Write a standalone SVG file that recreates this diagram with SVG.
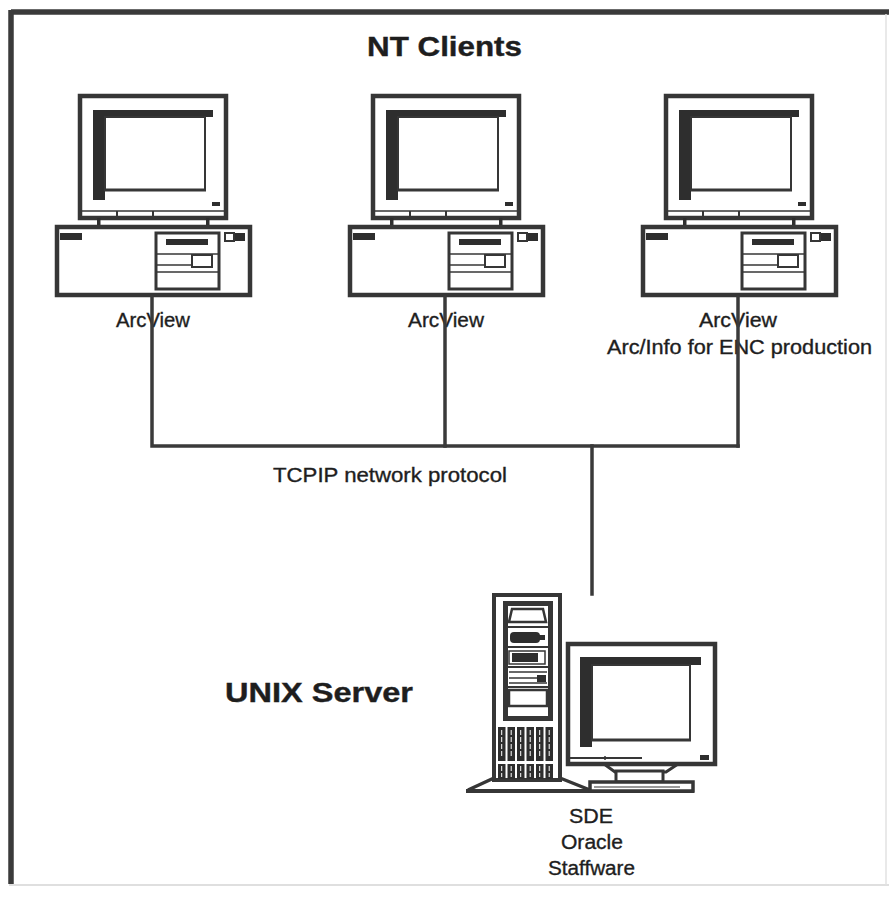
<svg xmlns="http://www.w3.org/2000/svg" xmlns:xlink="http://www.w3.org/1999/xlink" width="889" height="897" viewBox="0 0 889 897">
  <style>
    .ink { fill: none; stroke: #363636; }
    .solid { fill: #2e2e2e; stroke: none; }
    .white { fill: #ffffff; stroke: #363636; }
    .label { font-family: "Liberation Sans", Arial, sans-serif; font-size: 20px; fill: #1e1e1e; stroke: #1e1e1e; stroke-width: 0.35; }
    .title { font-family: "Liberation Sans", Arial, sans-serif; font-size: 27px; font-weight: bold; fill: #1e1e1e; stroke: #1e1e1e; stroke-width: 0.4; }
    .wire { fill: none; stroke: #3a3a3a; stroke-width: 3.5; stroke-linecap: square; }
  </style>
  <defs>
    <!-- desktop workstation: monitor on a horizontal system unit -->
    <g id="desktop">
      <!-- monitor -->
      <rect class="white" x="80" y="96" width="146" height="122" stroke-width="4.5"/>
      <rect class="solid" x="93" y="110" width="120" height="7"/>
      <rect class="solid" x="93" y="110" width="12" height="90"/>
      <rect class="white" x="105" y="117" width="100" height="73" stroke-width="2"/>
      <line class="ink" x1="105" y1="190" x2="206" y2="190" stroke-width="3"/>
      <rect class="solid" x="212" y="202" width="8" height="4"/>
      <line class="ink" x1="82" y1="211" x2="224" y2="211" stroke-width="1.5"/>
      <line class="ink" x1="117" y1="211" x2="117" y2="217" stroke-width="2"/>
      <line class="ink" x1="153" y1="211" x2="153" y2="217" stroke-width="2"/>
      <!-- monitor feet -->
      <rect class="solid" x="97" y="218" width="3.5" height="8"/>
      <rect class="solid" x="206" y="218" width="3.5" height="8"/>
      <!-- system unit -->
      <rect class="white" x="57" y="227" width="193" height="68" stroke-width="4.5"/>
      <rect class="solid" x="60" y="233" width="22" height="7"/>
      <rect class="white" x="156" y="233" width="63" height="56" stroke-width="3"/>
      <rect class="solid" x="166" y="239" width="42" height="6"/>
      <line class="ink" x1="156" y1="254" x2="219" y2="254" stroke-width="1.5"/>
      <line class="ink" x1="156" y1="265" x2="192" y2="265" stroke-width="1.5"/>
      <rect class="white" x="192" y="255" width="20" height="12" stroke-width="2"/>
      <line class="ink" x1="156" y1="272" x2="219" y2="272" stroke-width="1.5"/>
      <rect class="white" x="225" y="233" width="9" height="8" stroke-width="2"/>
      <rect class="solid" x="235" y="233" width="10" height="8"/>
    </g>
  </defs>

  <!-- frame -->
  <g id="frame">
    <line x1="11" y1="12" x2="889" y2="12" stroke="#3a3a3a" stroke-width="5.5"/>
    <line x1="11" y1="10" x2="11" y2="884" stroke="#3a3a3a" stroke-width="5.5"/>
    <line x1="9" y1="885" x2="889" y2="885" stroke="#d4d4d4" stroke-width="1.5"/>
    <line x1="886" y1="14" x2="886" y2="885" stroke="#e2e2e2" stroke-width="1.5"/>
  </g>

  <text class="title" x="367" y="56" textLength="155" lengthAdjust="spacingAndGlyphs">NT Clients</text>

  <!-- NT client workstations -->
  <g id="client1">
    <use xlink:href="#desktop" href="#desktop"/>
    <text class="label" x="153" y="327" text-anchor="middle" textLength="74" lengthAdjust="spacingAndGlyphs">ArcView</text>
  </g>
  <g id="client2">
    <use xlink:href="#desktop" href="#desktop" transform="translate(293,0)"/>
    <text class="label" x="446" y="327" text-anchor="middle" textLength="76" lengthAdjust="spacingAndGlyphs">ArcView</text>
  </g>
  <g id="client3">
    <use xlink:href="#desktop" href="#desktop" transform="translate(586,0)"/>
    <text class="label" x="738" y="327" text-anchor="middle" textLength="78" lengthAdjust="spacingAndGlyphs">ArcView</text>
    <text class="label" x="607" y="354" textLength="265" lengthAdjust="spacingAndGlyphs">Arc/Info for ENC production</text>
  </g>

  <!-- UNIX server: tower plus monitor -->
  <g id="server">
    <!-- base and feet -->
    <path class="ink" d="M494,778 L468,790 M560,778 L590,790" stroke-width="3.5"/>
    <line class="ink" x1="466" y1="791" x2="694" y2="791" stroke-width="4"/>
    <!-- tower -->
    <rect class="white" x="494" y="595" width="66" height="185" stroke-width="4"/>
    <rect class="white" x="505.5" y="603.5" width="45" height="115" stroke-width="5"/>
    <polygon class="white" points="512,609 543,609 546,622 509,622" stroke-width="2.5"/>
    <line class="ink" x1="506" y1="627" x2="550" y2="627" stroke-width="2"/>
    <rect class="solid" x="510" y="632" width="30" height="11" rx="4"/>
    <rect class="solid" x="538" y="635" width="7" height="5"/>
    <line class="ink" x1="506" y1="647" x2="550" y2="647" stroke-width="2"/>
    <rect class="ink" x="509" y="651" width="36" height="13" stroke-width="1.5"/>
    <rect class="solid" x="512" y="653" width="26" height="9"/>
    <line class="ink" x1="506" y1="667" x2="550" y2="667" stroke-width="2"/>
    <line class="ink" x1="509" y1="672" x2="547" y2="672" stroke-width="1.5"/>
    <line class="ink" x1="509" y1="678" x2="537" y2="678" stroke-width="1.5"/>
    <rect class="solid" x="537" y="675" width="9" height="7"/>
    <line class="ink" x1="509" y1="683" x2="547" y2="683" stroke-width="1.5"/>
    <line class="ink" x1="506" y1="687" x2="550" y2="687" stroke-width="2"/>
    <rect class="white" x="509" y="690" width="38" height="16" stroke-width="2.5"/>
    <!-- ventilation grille -->
    <g class="solid">
      <rect x="498" y="727" width="7.5" height="34"/>
      <rect x="507.5" y="727" width="7.5" height="34"/>
      <rect x="517" y="727" width="7.5" height="34"/>
      <rect x="526.5" y="727" width="7.5" height="34"/>
      <rect x="536" y="727" width="7.5" height="34"/>
      <rect x="545.5" y="727" width="7.5" height="34"/>
      <rect x="498" y="764" width="7.5" height="15"/>
      <rect x="507.5" y="764" width="7.5" height="15"/>
      <rect x="517" y="764" width="7.5" height="15"/>
      <rect x="526.5" y="764" width="7.5" height="15"/>
      <rect x="536" y="764" width="7.5" height="15"/>
      <rect x="545.5" y="764" width="7.5" height="15"/>
    </g>
    <g stroke="#ffffff" stroke-width="1" stroke-dasharray="5,2">
      <line x1="501.7" y1="730" x2="501.7" y2="758"/>
      <line x1="511.2" y1="730" x2="511.2" y2="758"/>
      <line x1="520.7" y1="730" x2="520.7" y2="758"/>
      <line x1="530.2" y1="730" x2="530.2" y2="758"/>
      <line x1="539.7" y1="730" x2="539.7" y2="758"/>
      <line x1="549.2" y1="730" x2="549.2" y2="758"/>
      <line x1="501.7" y1="766" x2="501.7" y2="777"/>
      <line x1="511.2" y1="766" x2="511.2" y2="777"/>
      <line x1="520.7" y1="766" x2="520.7" y2="777"/>
      <line x1="530.2" y1="766" x2="530.2" y2="777"/>
      <line x1="539.7" y1="766" x2="539.7" y2="777"/>
      <line x1="549.2" y1="766" x2="549.2" y2="777"/>
    </g>
    <!-- server monitor -->
    <polygon class="white" points="604,764 678,764 666,772 615,772" stroke-width="3"/>
    <rect class="white" x="616" y="771" width="47" height="11" stroke-width="3"/>
    <rect class="white" x="590" y="782" width="103" height="9" stroke-width="3.5"/>
    <line class="ink" x1="594" y1="787" x2="680" y2="787" stroke-width="1.2"/>
    <rect class="white" x="568" y="644" width="147" height="120" stroke-width="4.5"/>
    <rect class="solid" x="580" y="657" width="121" height="8"/>
    <rect class="solid" x="580" y="657" width="12" height="90"/>
    <rect class="white" x="592" y="665" width="98" height="75" stroke-width="2"/>
    <line class="ink" x1="592" y1="740" x2="691" y2="740" stroke-width="3"/>
    <line class="ink" x1="570" y1="758" x2="642" y2="758" stroke-width="2"/>
    <line class="ink" x1="605" y1="756" x2="605" y2="760" stroke-width="1.5"/>
    <rect class="solid" x="700" y="755" width="9" height="5"/>
    <text class="label" x="591" y="823" text-anchor="middle" textLength="44" lengthAdjust="spacingAndGlyphs">SDE</text>
    <text class="label" x="592" y="849" text-anchor="middle" textLength="62" lengthAdjust="spacingAndGlyphs">Oracle</text>
    <text class="label" x="591.5" y="875" text-anchor="middle" textLength="87" lengthAdjust="spacingAndGlyphs">Staffware</text>
  </g>

  <text class="title" x="225" y="702" textLength="188" lengthAdjust="spacingAndGlyphs">UNIX Server</text>

  <!-- network cabling -->
  <g id="connectors">
    <polyline class="wire" points="152,297 152,446 738,446"/>
    <line class="wire" x1="445" y1="297" x2="445" y2="446"/>
    <line class="wire" x1="738" y1="297" x2="738" y2="446"/>
    <line class="wire" x1="592" y1="446" x2="592" y2="594"/>
    <text class="label" x="273" y="482" font-size="21" textLength="234" lengthAdjust="spacingAndGlyphs">TCPIP network protocol</text>
  </g>
</svg>
